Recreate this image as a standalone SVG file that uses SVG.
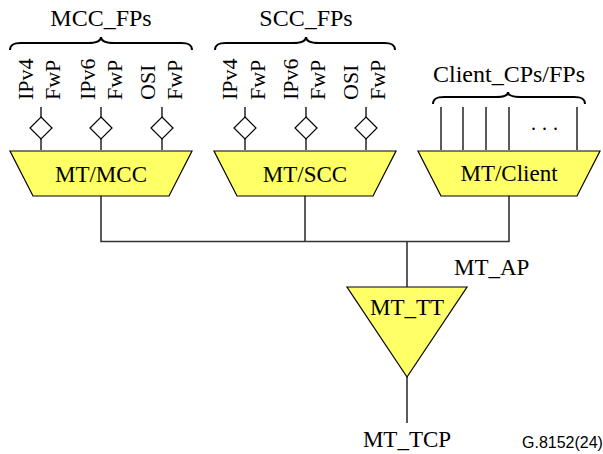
<svg xmlns="http://www.w3.org/2000/svg" width="603" height="454" viewBox="0 0 603 454">
<defs>
<style>
.t{font-family:"Liberation Serif","Times New Roman",serif;fill:#000}
.lab{font-size:24px;text-anchor:middle}
.nm{font-size:23px;text-anchor:middle}
.rot{font-size:22px}
.ln{stroke:#333;stroke-width:1.6;fill:none}
.br{stroke:#000;stroke-width:2;fill:none}
.sh{fill:#FFFF66;stroke:#000;stroke-width:1.2}
.dm{fill:#fff;stroke:#000;stroke-width:1.2}
</style>
</defs>
<rect width="603" height="454" fill="#fff"/>
<g id="connectors">
<path class="ln" d="M101,196V241.5H509V196M305,196V241.5M407,241.5V287M407,377V423"/>
</g>
<g id="mcc_fps">
<text class="t lab" x="101" y="26">MCC_FPs</text>
<path class="br" d="M10,50C10,45 13,43 21,43L88,43C96,43 101,41 101,37C101,41 106,43 114,43L181,43C189,43 192,45 192,50"/>
<text class="t rot" transform="translate(33,100) rotate(-90)">IPv4</text>
<text class="t rot" transform="translate(60,100) rotate(-90)">FwP</text>
<text class="t rot" transform="translate(95,100) rotate(-90)">IPv6</text>
<text class="t rot" transform="translate(122,100) rotate(-90)">FwP</text>
<text class="t rot" transform="translate(155,100) rotate(-90)">OSI</text>
<text class="t rot" transform="translate(182,100) rotate(-90)">FwP</text>
<path class="ln" d="M41,107V150M101,107V150M162,107V150"/>
<path class="dm" d="M41,117l11,11l-11,11l-11,-11z"/>
<path class="dm" d="M101,117l11,11l-11,11l-11,-11z"/>
<path class="dm" d="M162,117l11,11l-11,11l-11,-11z"/>
</g>
<g id="scc_fps">
<text class="t lab" x="306" y="26">SCC_FPs</text>
<path class="br" d="M215,50C215,45 218,43 226,43L293,43C301,43 306,41 306,37C306,41 311,43 319,43L384,43C392,43 395,45 395,50"/>
<text class="t rot" transform="translate(237,100) rotate(-90)">IPv4</text>
<text class="t rot" transform="translate(265,100) rotate(-90)">FwP</text>
<text class="t rot" transform="translate(298,100) rotate(-90)">IPv6</text>
<text class="t rot" transform="translate(325,100) rotate(-90)">FwP</text>
<text class="t rot" transform="translate(358,100) rotate(-90)">OSI</text>
<text class="t rot" transform="translate(385,100) rotate(-90)">FwP</text>
<path class="ln" d="M245,107V150M306,107V150M366,107V150"/>
<path class="dm" d="M245,117l11,11l-11,11l-11,-11z"/>
<path class="dm" d="M306,117l11,11l-11,11l-11,-11z"/>
<path class="dm" d="M366,117l11,11l-11,11l-11,-11z"/>
</g>
<g id="client_fps">
<text class="t lab" x="509" y="82">Client_CPs/FPs</text>
<path class="br" d="M433,104C433,99 436,97 444,97L496,97C504,97 508,95 508,92C508,95 512,97 520,97L574,97C582,97 585,99 585,104"/>
<path class="ln" d="M441,107V150M463,107V150M486,107V150M509,107V150M577,107V150"/>
<text class="t" x="531" y="130" style="font-size:20px;letter-spacing:6px">...</text>
</g>
<g id="mt_mcc">
<path class="sh" d="M10,151H192L169,196H33Z"/>
<text class="t nm" x="101" y="182">MT/MCC</text>
</g>
<g id="mt_scc">
<path class="sh" d="M214,151H396L373,196H237Z"/>
<text class="t nm" x="305" y="182">MT/SCC</text>
</g>
<g id="mt_client">
<path class="sh" d="M418,151H600L577,196H441Z"/>
<text class="t nm" x="509" y="181">MT/Client</text>
</g>
<g id="mt_tt">
<path class="sh" d="M347,287H467L407,377Z"/>
<text class="t nm" x="407" y="315">MT_TT</text>
</g>
<g id="labels">
<text class="t" x="454" y="275" style="font-size:23px">MT_AP</text>
<text class="t nm" x="407" y="447">MT_TCP</text>
<text x="522" y="448" style="font-family:'Liberation Sans',Arial,sans-serif;font-size:16px;fill:#000">G.8152(24)</text>
</g>
</svg>
